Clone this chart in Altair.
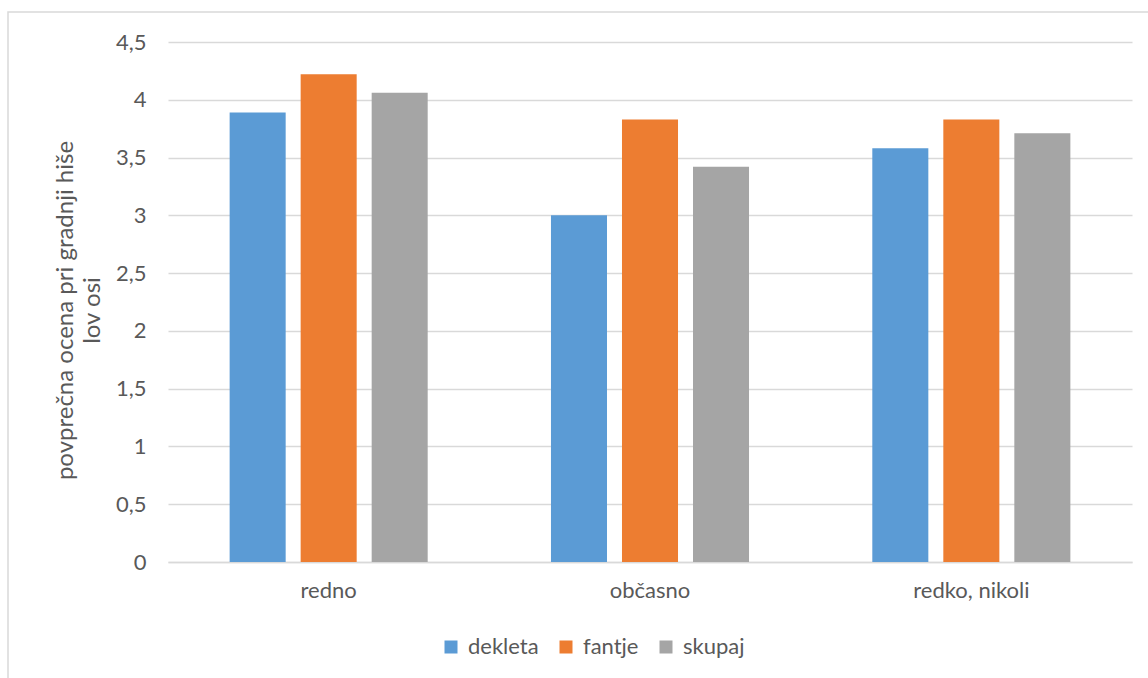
import altair as alt
import pandas as pd

categories = ["redno", "občasno", "redko, nikoli"]
series = ["dekleta", "fantje", "skupaj"]
dekleta = [3.89, 3.00, 3.58]
fantje = [4.22, 3.83, 3.83]
skupaj = [4.06, 3.42, 3.71]
colors = ["#5B9BD5", "#ED7D31", "#A5A5A5"]

rows = []
for i, c in enumerate(categories):
    for s, vals in zip(series, [dekleta, fantje, skupaj]):
        rows.append({"kat": c, "serija": s, "vrednost": vals[i]})
df = pd.DataFrame(rows)

FONT = "Lato"
TXT = "#595959"
GRID = "#D9D9D9"

bars = alt.Chart(df).mark_bar().encode(
    x=alt.X("kat:N", sort=categories,
            scale=alt.Scale(paddingInner=0, paddingOuter=0),
            axis=alt.Axis(title=None, labelAngle=0, labelFontSize=22, labelColor=TXT,
                          labelFont=FONT, labelPadding=18, ticks=False, grid=False,
                          domainColor=GRID, domainWidth=1.5)),
    xOffset=alt.XOffset("serija:N", sort=series,
                        scale=alt.Scale(paddingInner=0.211, paddingOuter=0.868)),
    y=alt.Y("vrednost:Q",
            scale=alt.Scale(domain=[0, 4.5], nice=False),
            axis=alt.Axis(values=[0, 0.5, 1, 1.5, 2, 2.5, 3, 3.5, 4, 4.5],
                          labelExpr="replace(format(datum.value, '~g'), '.', ',')",
                          title=["povprečna ocena pri gradnji hiše", "lov osi"],
                          titleFontSize=24, titleFontWeight="normal", titleColor=TXT,
                          titleFont=FONT, titleAngle=-90, titleX=-103, titleY=268,
                          titleAlign="center", titleBaseline="middle", titleLineHeight=27,
                          labelFontSize=22, labelColor=TXT, labelFont=FONT,
                          labelPadding=22, ticks=False, domain=False,
                          grid=True, gridColor=GRID, gridWidth=1.5)),
    color=alt.Color("serija:N", sort=series,
                    scale=alt.Scale(domain=series, range=colors),
                    legend=alt.Legend(title=None, orient="none", direction="horizontal",
                                      legendX=272, legendY=594,
                                      symbolType="square", symbolSize=169,
                                      symbolStrokeWidth=0,
                                      labelFontSize=22, labelColor=TXT, labelFont=FONT,
                                      labelOffset=6, columnPadding=16)),
)

frame = alt.Chart(pd.DataFrame({"a": [0]})).mark_rect(
    fill=None, stroke=GRID, strokeWidth=1.5, clip=False
).encode(x=alt.value(-160), x2=alt.value(1000), y=alt.value(-30), y2=alt.value(700))

chart = alt.layer(frame, bars).properties(
    width=964, height=520,
    background="white",
    autosize=alt.AutoSizeParams(type="none"),
    padding={"left": 168, "top": 42, "right": 16, "bottom": 116},
).configure_view(stroke=None)

chart.save("out.html", embed_options={"renderer": "svg", "actions": False})
